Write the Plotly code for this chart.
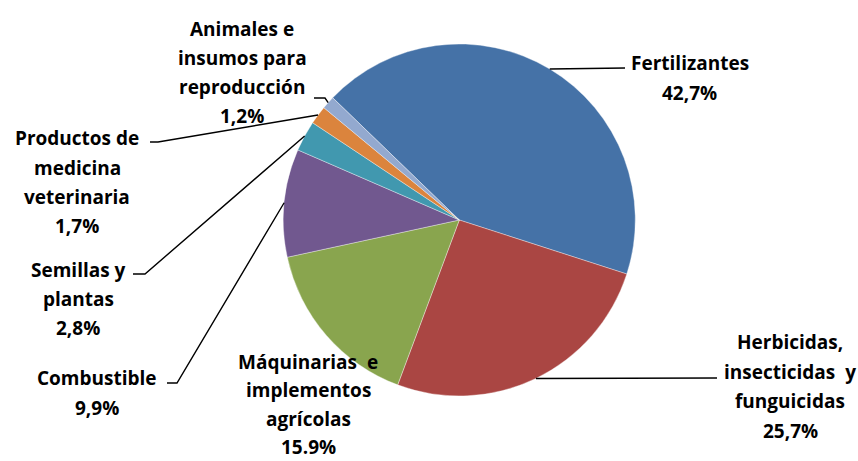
import math
import plotly.graph_objects as go

# ---- data ----
categories = ["Fertilizantes", "Herbicidas, insecticidas y funguicidas",
              "Máquinarias e implementos agrícolas", "Combustible",
              "Semillas y plantas", "Productos de medicina veterinaria",
              "Animales e insumos para reproducción"]
values = [42.7, 25.7, 15.9, 9.9, 2.8, 1.7, 1.2]
pct_labels = ["42,7%", "25,7%", "15.9%", "9,9%", "2,8%", "1,7%", "1,2%"]
label_lines = [
    ["Fertilizantes"],
    ["Herbicidas,", "insecticidas\u00a0 y", "funguicidas"],
    ["Máquinarias\u00a0 e", "implementos", "agrícolas"],
    ["Combustible"],
    ["Semillas y", "plantas"],
    ["Productos de", "medicina", "veterinaria"],
    ["Animales e", "insumos para", "reproducción"],
]
colors = ["#4572A7", "#AA4643", "#89A54E", "#71588F", "#4198AF", "#DB843D", "#93A9CF"]

# ---- layout constants (pixels) ----
W, H = 858, 461
CX, CY, R = 459.3, 220.0, 176.0
ROTATION = -46.0
FONT = dict(family="Open Sans", size=19, color="#000000", weight="bold")

# label block: (center x, first-line y, line gap) in pixels
label_pos = [(689.5, 63, 29.5), (790, 342, 29.5), (308, 362, 28.3), (97, 378, 29.5),
             (78, 270, 29), (77, 138, 29.5), (242, 29, 29)]
# leader line knee/end points (None -> no leader)
leader_pts = [
    [(625, 68)],
    [(717, 378)],
    None,
    [(177, 383), (167, 383)],
    [(145, 274), (133, 274)],
    [(158, 142), (150, 142)],
    [(325, 98), (314, 98)],
]


def px(x):
    return x / W


def py(y):
    return 1 - y / H


fig = go.Figure(go.Pie(
    labels=categories, values=values, sort=False, direction="clockwise",
    rotation=ROTATION, textinfo="none", hoverinfo="label+percent",
    marker=dict(colors=colors, line=dict(color="rgba(255,255,255,0.6)", width=0.6)),
    domain=dict(x=[px(CX - R), px(CX + R)], y=[py(CY + R), py(CY - R)]),
    showlegend=False,
))

annotations = []
shapes = []
total = sum(values)
cum = 0.0
for i, v in enumerate(values):
    mid = math.radians(ROTATION + 360 * (cum + v / 2) / total)
    cum += v
    ex, ey = CX + R * math.sin(mid), CY - R * math.cos(mid)
    lines = label_lines[i] + [pct_labels[i]]
    lx, ly, gap = label_pos[i]
    for k, t in enumerate(lines):
        annotations.append(dict(x=px(lx), y=py(ly + k * gap), xref="paper", yref="paper",
                                text=t, showarrow=False, xanchor="center", yanchor="middle",
                                font=FONT))
    if leader_pts[i]:
        pts = [(ex, ey)] + leader_pts[i]
        path = "M " + " L ".join(f"{px(a):.5f},{py(b):.5f}" for a, b in pts)
        shapes.append(dict(type="path", path=path, xref="paper", yref="paper",
                           line=dict(color="#000000", width=1.4)))

fig.update_layout(width=W, height=H, margin=dict(l=0, r=0, t=0, b=0),
                  paper_bgcolor="white", plot_bgcolor="white",
                  annotations=annotations, shapes=shapes)
fig.write_html("out.html", config={"displayModeBar": False},
               post_script="document.body.style.margin='0';document.body.style.overflow='hidden';")
